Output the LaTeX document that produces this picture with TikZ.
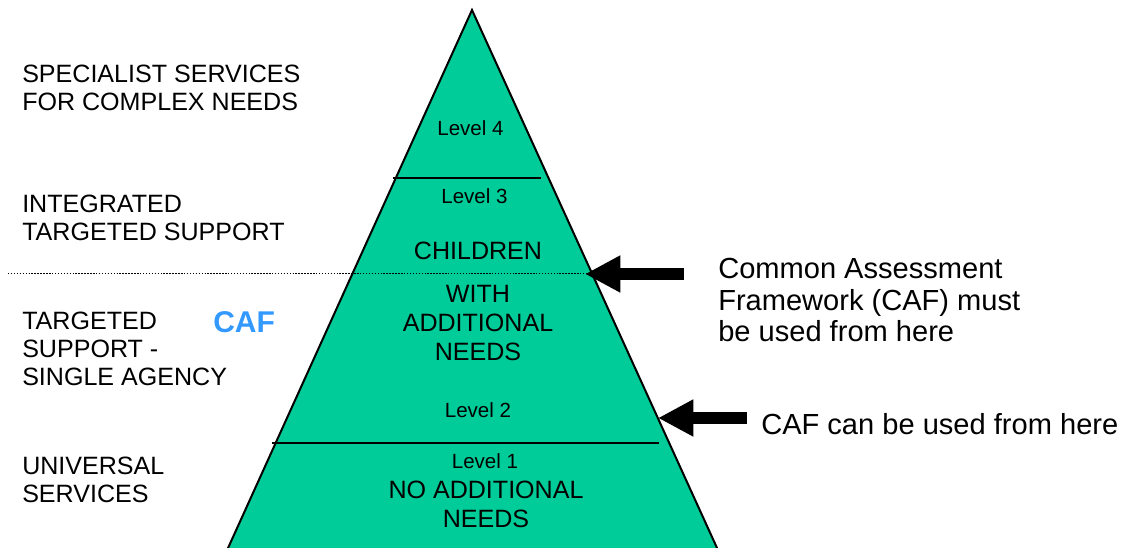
\documentclass[tikz,border=0pt]{standalone}
\usepackage{fontspec}
\setmainfont{Liberation Sans}
\usetikzlibrary{arrows.meta}

\definecolor{pyrgreen}{RGB}{0,204,153}
\definecolor{cafblue}{RGB}{51,153,255}

\begin{document}
\begin{tikzpicture}[x=0.75pt,y=0.75pt,yscale=-1,xscale=1,
    side/.style={anchor=north west,inner sep=0pt,align=left,font=\fontsize{18.8}{21}\selectfont},
    lvl/.style={anchor=north,inner sep=0pt,font=\fontsize{15.4}{18}\selectfont},
    band/.style={anchor=north,inner sep=0pt,align=center,font=\fontsize{18.8}{21.6}\selectfont},
    note/.style={anchor=north west,inner sep=0pt,align=left,font=\fontsize{21.8}{23.6}\selectfont},
    blockarrow/.style={line width=8.6pt,-{Triangle[length=26.5pt,width=26pt]}}]
        \useasboundingbox (0,0) rectangle (1128,548);
        \clip (0,0) rectangle (1128,548);

        \coordinate (apex) at (472,10);
        \coordinate (baseL) at (222.6,560);
        \coordinate (baseR) at (722.5,560);

        %Shape: Triangle
        \fill[pyrgreen] (apex) -- (baseR) -- (baseL) -- cycle;
        \draw[line width=1.5pt] (baseL) -- (apex) -- (baseR);

        %Straight Lines
        \draw[line width=1.5pt] (393,178) -- (541,178);
        \draw[line width=1.5pt] (272,443) -- (659,443);
        %Dotted Line
        \draw[line width=1.1pt,dash pattern=on 1.1pt off 1.1pt] (8,273.5) -- (591,273.5);

        %Arrows
        \coordinate (mustPt) at (585,274);
        \coordinate (mustTail) at (684,274);
        \draw[blockarrow] (mustTail) -- (mustPt);
        \coordinate (canPt) at (658,418);
        \coordinate (canTail) at (747,418);
        \draw[blockarrow] (canTail) -- (canPt);

        % Text Node
        \node[side] (specialist) at (22,65) {SPECIALIST SERVICES\\FOR COMPLEX NEEDS};
        % Text Node
        \node[side] (integrated) at (22,195) {INTEGRATED\\TARGETED SUPPORT};
        % Text Node
        \node[side] (targeted) at (22,312) {TARGETED\\SUPPORT -\\SINGLE AGENCY};
        % Text Node
        \node[side] (universal) at (22,457) {UNIVERSAL\\SERVICES};
        % Text Node
        \node[anchor=north west,inner sep=0pt,text=cafblue,font=\fontsize{22.5}{26}\selectfont\bfseries] (caf) at (213,311) {CAF};

        % Text Node
        \node[lvl] (lvl4) at (470.5,120) {Level 4};
        % Text Node
        \node[lvl] (lvl3) at (474.5,188) {Level 3};
        % Text Node
        \node[band] (children) at (478,242) {CHILDREN};
        % Text Node
        \node[band] (additional) at (478,285) {WITH\\ADDITIONAL\\NEEDS};
        % Text Node
        \node[lvl] (lvl2) at (478,402) {Level 2};
        % Text Node
        \node[lvl] (lvl1) at (485,453) {Level 1};
        % Text Node
        \node[band] (noneeds) at (486,481) {NO ADDITIONAL\\NEEDS};

        % Text Node
        \node[note] (mustnote) at (718,258) {Common Assessment\\Framework (CAF) must\\be used from here};
        % Text Node
        \node[note] (cannote) at (761,413) {CAF can be used from here};

\end{tikzpicture}
\end{document}
